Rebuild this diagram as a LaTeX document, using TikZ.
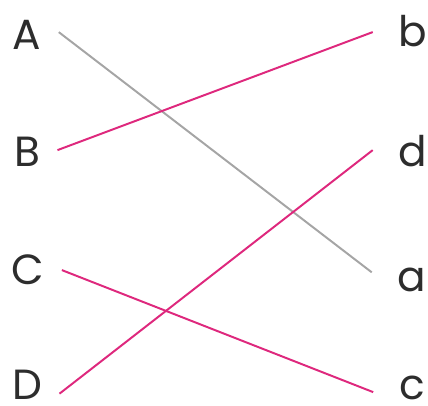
\documentclass[tikz,border=0pt]{standalone}
\usepackage{fontspec}
\setmainfont{Poppins}
\usepackage{xcolor}
\usetikzlibrary{positioning}
\definecolor{matchPink}{RGB}{222, 40, 125}
\definecolor{matchGray}{RGB}{165, 165, 165}

\begin{document}
\begin{tikzpicture}[x=0.025cm, y=-0.025cm,
    letter/.style={inner sep=0pt, anchor=base, font=\fontsize{30}{34}\selectfont\color[RGB]{45,45,45}, text height=24pt, text depth=0pt},
    leftletter/.style={letter, outer xsep=12.5pt},
    rightletter/.style={letter, outer xsep=18.5pt},
    pairline/.style={line width=1.4pt}]
    \useasboundingbox (0,0) rectangle (428,406);
    % left column
    \node[leftletter] (A) at (27,50) {A};
    \node[leftletter] (B) at (27,167) {B};
    \node[leftletter] (C) at (28,285) {C};
    \node[leftletter] (D) at (27,400) {D};
    % right column
    \node[rightletter] (b) at (413,47) {b};
    \node[rightletter] (d) at (413,167) {d};
    \node[rightletter] (a) at (412,292) {a};
    \node[rightletter] (c) at (412,400) {c};
    % matches
    \draw[pairline, matchGray] ([yshift=0.7pt]A.east) -- ([yshift=2pt]a.west);
    \draw[pairline, matchPink] (B.east) -- ([yshift=-1.4pt]b.west);
    \draw[pairline, matchPink] ([yshift=-1.4pt]C.east) -- ([yshift=-6.4pt]c.west);
    \draw[pairline, matchPink] ([yshift=-7.5pt]D.east) -- (d.west);
\end{tikzpicture}
\end{document}
